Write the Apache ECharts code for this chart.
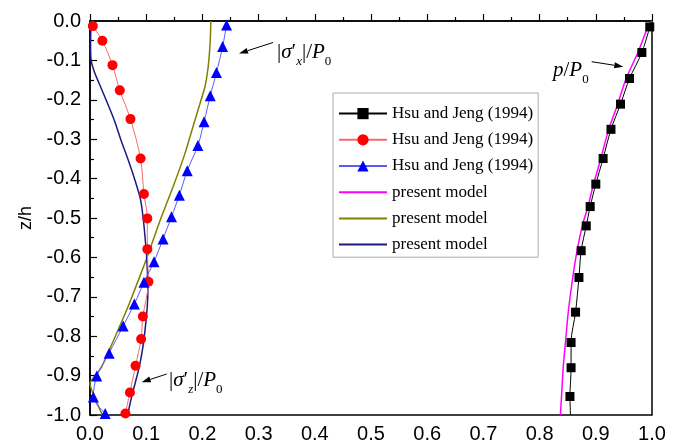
<!DOCTYPE html>
<html>
<head>
<meta charset="utf-8">
<script src="https://cdn.jsdelivr.net/npm/echarts@6/dist/echarts.min.js"></script>
<style>
html,body{margin:0;padding:0;background:#fff;}
#chart{width:681px;height:446px;}
</style>
</head>
<body>
<div id="chart"></div>
<script>
// ---------------- data ----------------
// Hsu and Jeng (1994): p/P0 (squares)
const hsuP_x = [0.996,0.982,0.960,0.944,0.927,0.913,0.900,0.890,0.883,0.874,0.870,0.864,0.856,0.856,0.854,0.855];
const hsuP_z = [-0.015,-0.080,-0.146,-0.211,-0.275,-0.349,-0.414,-0.471,-0.520,-0.583,-0.651,-0.739,-0.816,-0.880,-0.953,-1.0];
// Hsu and Jeng (1994): |sigma'z|/P0 (circles)
const hsuSz_x = [0.005,0.022,0.040,0.053,0.072,0.090,0.096,0.102,0.102,0.104,0.094,0.091,0.081,0.071,0.063];
const hsuSz_z = [-0.013,-0.050,-0.112,-0.176,-0.249,-0.349,-0.439,-0.501,-0.579,-0.662,-0.750,-0.807,-0.875,-0.943,-0.996];
// Hsu and Jeng (1994): |sigma'x|/P0 (triangles)
const hsuSx_x = [0.243,0.236,0.225,0.214,0.203,0.192,0.173,0.159,0.145,0.130,0.114,0.096,0.079,0.059,0.034,0.012,0.006,0.027];
const hsuSx_z = [-0.010,-0.065,-0.131,-0.190,-0.256,-0.316,-0.380,-0.442,-0.497,-0.553,-0.611,-0.663,-0.718,-0.774,-0.843,-0.901,-0.954,-0.996];
// present model: p/P0
const modP_x = [1.0,0.993,0.975,0.954,0.939,0.923,0.909,0.896,0.886,0.876,0.867,0.859,0.851,0.846,0.842,0.839,0.837];
const modP_z = [0,-0.014,-0.080,-0.146,-0.211,-0.275,-0.349,-0.414,-0.471,-0.520,-0.580,-0.651,-0.739,-0.816,-0.880,-0.953,-1.0];
// present model: |sigma'x|/P0
const modSx_x = [0.215,0.214,0.210,0.204,0.193,0.185,0.169,0.148,0.125,0.101,0.070,0.050,0.020,0.003,0.0,0.022];
const modSx_z = [0,-0.050,-0.120,-0.170,-0.222,-0.260,-0.336,-0.420,-0.505,-0.602,-0.717,-0.784,-0.880,-0.911,-0.920,-1.0];
// present model: |sigma'z|/P0
const modSz_x = [0.002,0.001,0.002,0.008,0.015,0.030,0.044,0.055,0.068,0.080,0.090,0.095,0.098,0.101,0.103,0.098,0.089,0.074,0.067];
const modSz_z = [0,-0.060,-0.100,-0.130,-0.154,-0.205,-0.255,-0.302,-0.353,-0.404,-0.454,-0.505,-0.550,-0.602,-0.687,-0.784,-0.869,-0.954,-1.0];

const legendLabels = {
  hsuP: 'Hsu and Jeng (1994)', hsuSz: 'Hsu and Jeng (1994)', hsuSx: 'Hsu and Jeng (1994)',
  modP: 'present model', modSx: 'present model', modSz: 'present model'
};
const xAxisRange = [0, 1.0, 0.1];
const yAxisRange = [-1.0, 0, 0.1];

// ---------------- build ----------------
function zip(xs, zs){ return xs.map((x,i)=>[x, zs[i]]); }
const hsuPData = zip(hsuP_x, hsuP_z).map((p,i,arr)=> i===arr.length-1 ? {value:p, symbol:'none'} : p);

const chart = echarts.init(document.getElementById('chart'), null, {renderer:'canvas'});
const serifF = '"Liberation Serif","Times New Roman",serif';
const sansF = '"Liberation Sans",Arial,sans-serif';

function baseLine(name, data, color, width, extra){
  return Object.assign({
    name, type:'line', data, smooth:0.3, animation:false,
    lineStyle:{color, width}, itemStyle:{color}, emphasis:{disabled:true}
  }, extra||{});
}

const option = {
  animation:false,
  grid:{left:90, top:21, right:29, bottom:31, show:true, borderColor:'#000', borderWidth:1.5, backgroundColor:'transparent'},
  xAxis:{
    type:'value', min:xAxisRange[0], max:xAxisRange[1], interval:xAxisRange[2],
    axisLine:{show:true, lineStyle:{color:'#000', width:1.5}},
    axisTick:{show:true, inside:true, length:7, lineStyle:{color:'#000', width:1.2}},
    minorTick:{show:true, splitNumber:2, length:4, lineStyle:{color:'#000', width:1.2}},
    splitLine:{show:false},
    axisLabel:{color:'#000', fontFamily:sansF, fontSize:20, margin:9, formatter:v=>v.toFixed(1)}
  },
  yAxis:{
    type:'value', min:yAxisRange[0], max:yAxisRange[1], interval:yAxisRange[2],
    name:'z/h', nameLocation:'middle', nameGap:55, nameRotate:90,
    nameTextStyle:{color:'#000', fontFamily:sansF, fontSize:18},
    axisLine:{show:true, lineStyle:{color:'#000', width:1.5}},
    axisTick:{show:true, inside:true, length:7, lineStyle:{color:'#000', width:1.2}},
    minorTick:{show:true, splitNumber:2, length:4, lineStyle:{color:'#000', width:1.2}},
    splitLine:{show:false},
    axisLabel:{color:'#000', fontFamily:sansF, fontSize:20, margin:9, formatter:v=>{const s=v.toFixed(1); return s==='-0.0'?'0.0':s;}}
  },
  legend:{
    orient:'vertical', left:333, top:93,
    padding:[12,5,4,5], itemGap:9, itemWidth:48, itemHeight:14,
    borderColor:'#aaa', borderWidth:1, backgroundColor:'#fff',
    textStyle:{fontFamily:serifF, fontSize:17, color:'#000', lineHeight:17.2},
    formatter:n=>legendLabels[n],
    selectedMode:false,
    data:['hsuP','hsuSz','hsuSx',
      {name:'modP', itemStyle:{opacity:0}},
      {name:'modSx', itemStyle:{opacity:0}},
      {name:'modSz', itemStyle:{opacity:0}}]
  },
  series:[
    baseLine('modP', zip(modP_x, modP_z), '#ff00ff', 1.5, {symbol:'none'}),
    baseLine('modSx', zip(modSx_x, modSx_z), '#808000', 1.5, {symbol:'none', smooth:0.15}),
    baseLine('modSz', zip(modSz_x, modSz_z), '#1a1a80', 1.5, {symbol:'none'}),
    baseLine('hsuP', hsuPData, '#000000', 1, {symbol:'rect', symbolSize:9}),
    Object.assign(baseLine('hsuSz', zip(hsuSz_x, hsuSz_z), '#ff0000', 1, {symbol:'circle', symbolSize:10}), {lineStyle:{color:'#f26b6b', width:1}}),
    Object.assign(baseLine('hsuSx', zip(hsuSx_x, hsuSx_z), '#0000ff', 1, {symbol:'triangle', symbolSize:11}), {lineStyle:{color:'#5a5aff', width:1}})
  ]
};
chart.setOption(option);

// ---------------- annotations ----------------
function arrow(x1,y1,x2,y2){
  const dx=x2-x1, dy=y2-y1, L=Math.hypot(dx,dy), ux=dx/L, uy=dy/L;
  const hl=9, hw=3;
  const bx=x2-ux*hl, by=y2-uy*hl;
  return [
    {type:'line', shape:{x1,y1,x2:bx,y2:by}, style:{stroke:'#000', lineWidth:1}, silent:true, z:100},
    {type:'polygon', shape:{points:[[x2,y2],[bx-uy*hw,by+ux*hw],[bx+uy*hw,by-ux*hw]]}, style:{fill:'#000'}, silent:true, z:100}
  ];
}
const richStyle = {
  n:{fontFamily:serifF, fontSize:21, fill:'#000', verticalAlign:'middle'},
  i:{fontFamily:serifF, fontSize:21, fontStyle:'italic', fill:'#000', verticalAlign:'middle'},
  s:{fontFamily:serifF, fontSize:13, fontStyle:'italic', fill:'#000', verticalAlign:'middle', padding:[20,0,0,0]},
  s0:{fontFamily:serifF, fontSize:13, fill:'#000', verticalAlign:'middle', padding:[20,0,0,0]}
};
function label(x,y,text){
  return {type:'text', x, y, silent:true, z:100,
    style:{text, rich:richStyle, fontFamily:serifF, fontSize:21, fill:'#000', verticalAlign:'middle', align:'left'}};
}
chart.setOption({graphic:[
  ...arrow(273,42.5,239,53.5),
  label(277,52,'{n|\u007C}{i|σ}{n|′}{s|x}{n|\u007C/}{i|P}{s0|0}'),
  ...arrow(166.7,374,141.7,382.3),
  label(169,380,'{n|\u007C}{i|σ}{n|′}{s|z}{n|\u007C/}{i|P}{s0|0}'),
  ...arrow(591.7,61.7,623.3,66.7),
  label(553,70,'{i|p}{n|/}{i|P}{s0|0}')
]});
</script>
</body>
</html>
